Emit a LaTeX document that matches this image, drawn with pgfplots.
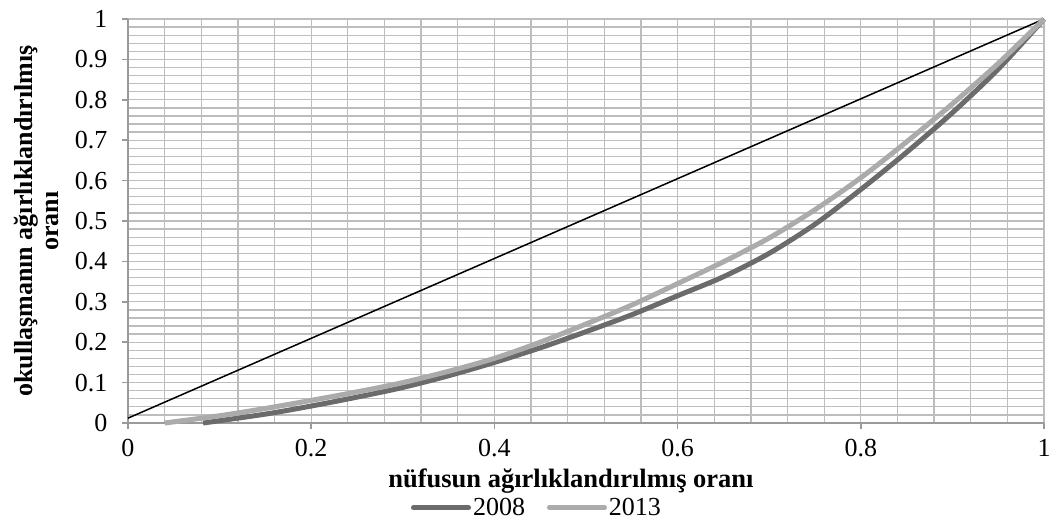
\documentclass[border=0pt]{standalone}
\usepackage{pgfplots}
\pgfplotsset{compat=1.18}
\usepackage{fontspec}
\setmainfont{Liberation Serif}
\definecolor{c08}{HTML}{6B6B6B}
\definecolor{c13}{HTML}{ABABAB}
\definecolor{gridc}{HTML}{BDBDBD}
\definecolor{axc}{HTML}{9A9A9A}
\begin{document}
\begin{tikzpicture}
\begin{axis}[
  scale only axis, width=916bp, height=404bp,
  xmin=0, xmax=1, ymin=0, ymax=1,
  clip=false,
  xtick={0,0.2,0.4,0.6,0.8,1},
  ytick={0,0.1,0.2,0.3,0.4,0.5,0.6,0.7,0.8,0.9,1},
  xticklabels={0,0.2,0.4,0.6,0.8,1},
  yticklabels={0,0.1,0.2,0.3,0.4,0.5,0.6,0.7,0.8,0.9,1},
  minor xtick={0.04,0.08,0.12,0.16,0.24,0.28,0.32,0.36,0.44,0.48,0.52,0.56,0.64,0.68,0.72,0.76,0.84,0.88,0.92,0.96},
  minor ytick={0.02,0.04,0.06,0.08,0.12,0.14,0.16,0.18,0.22,0.24,0.26,0.28,0.32,0.34,0.36,0.38,0.42,0.44,0.46,0.48,0.52,0.54,0.56,0.58,0.62,0.64,0.66,0.68,0.72,0.74,0.76,0.78,0.82,0.84,0.86,0.88,0.92,0.94,0.96,0.98},
  grid=both,
  major grid style={draw=gridc, line width=1.3bp},
  minor grid style={draw=gridc, line width=1.3bp},
  axis x line*=bottom, axis y line*=left,
  axis line style={draw=axc, line width=1.6bp, -},
  tick align=outside, major tick length=6bp, minor tick length=0pt,
  major tick style={draw=axc, line width=1.6bp},
  ticklabel style={font=\fontsize{26bp}{28bp}\selectfont},
  xticklabel style={yshift=-7bp},
  yticklabel style={xshift=-11bp},
  xlabel={nüfusun ağırlıklandırılmış oranı},
  xlabel style={at={(rel axis cs:0.4836,-0.1436)}, anchor=center, font=\fontsize{26.5bp}{28bp}\selectfont\bfseries},
  ylabel={okullaşmanın ağırlıklandırılmış\\oranı},
  ylabel style={at={(rel axis cs:-0.1000,0.5)}, anchor=center, rotate=0, align=center, font=\fontsize{26bp}{26bp}\selectfont\bfseries},
  legend columns=2,
  legend style={at={(rel axis cs:0.4465,-0.21)}, anchor=center, draw=none, fill=none,
    font=\fontsize{26bp}{28bp}\selectfont, inner sep=0pt,
    /tikz/every even column/.append style={column sep=20bp}},
  legend cell align=left,
  legend image code/.code={\draw[#1, line cap=round] (0bp,0bp) -- (55bp,0bp);},
]
\addplot[black, line width=1.5bp, forget plot] coordinates {(0,0.012) (1,1)};
\addplot[c08, line width=5bp, smooth, tension=0.5] coordinates {
 (0.082,0) (0.15,0.022) (0.2,0.042) (0.25,0.064) (0.3,0.088) (0.35,0.117) (0.4,0.150)
 (0.45,0.186) (0.5,0.226) (0.55,0.268) (0.6,0.315) (0.65,0.362) (0.7,0.420)
 (0.75,0.492) (0.8,0.578) (0.85,0.670) (0.9,0.768) (0.95,0.876) (1,1)};
\addlegendentry{2008}
\addplot[c13, line width=5bp, smooth, tension=0.5] coordinates {
 (0.04,0) (0.1,0.018) (0.15,0.036) (0.2,0.056) (0.25,0.077) (0.3,0.100) (0.35,0.128) (0.4,0.160)
 (0.45,0.200) (0.5,0.245) (0.55,0.292) (0.6,0.345) (0.65,0.399) (0.7,0.458)
 (0.75,0.528) (0.8,0.607) (0.85,0.696) (0.9,0.790) (0.95,0.890) (1,1)};
\addlegendentry{2013}
\end{axis}
\pgfresetboundingbox
\path (-128bp,-100bp) rectangle (928bp,423bp);
\end{tikzpicture}
\end{document}
